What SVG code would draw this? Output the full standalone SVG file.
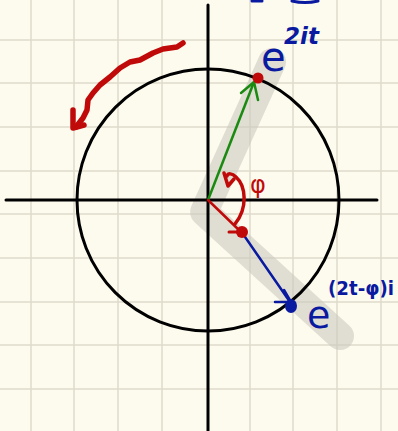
<svg xmlns="http://www.w3.org/2000/svg" width="398" height="431" viewBox="0 0 398 431">
<style>
.grid{stroke:#dedbcb;stroke-width:1.5}
.ax{stroke:#000;stroke-width:3;fill:none;stroke-linecap:round}
.red{stroke:#c00a0a;fill:none;stroke-linecap:round;stroke-linejoin:round}
.blue{stroke:#0a1aa0;fill:none;stroke-linecap:round;stroke-linejoin:round}
.lbl{font-family:"DejaVu Sans",sans-serif;fill:#0a1aa0}
</style>
<rect width="398" height="431" fill="#fdfbee"/>
<g id="grid">
<path class="grid" d="M31,0V431M74,0V431M118,0V431M162,0V431M250,0V431M293,0V431M337,0V431M381,0V431M0,40H398M0,83H398M0,127H398M0,171H398M0,214H398M0,258H398M0,302H398M0,345H398M0,389H398"/>
</g>
<g id="band">
<polyline points="272,62 204,212 340,336" fill="none" stroke="#c8c6bb" stroke-opacity="0.55" stroke-width="28" stroke-linecap="round" stroke-linejoin="round"/>
</g>
<g id="axes">
<line class="ax" x1="6" y1="200" x2="377" y2="200"/>
<line class="ax" x1="208" y1="5" x2="208" y2="431"/>
<circle class="ax" cx="208" cy="200" r="131"/>
</g>
<g id="connectors">
<line x1="208" y1="200" x2="254" y2="82" stroke="#1a8a10" stroke-width="2.5"/>
<polyline points="241,93 254,82 258,100" fill="none" stroke="#1a8a10" stroke-width="2.5" stroke-linecap="round" stroke-linejoin="round"/>
<line class="red" x1="208" y1="200" x2="240" y2="231" stroke-width="2.5"/>
<line class="blue" x1="243" y1="234" x2="290" y2="302" stroke-width="2.5"/>
<polyline class="blue" points="284,290 291,302 275,302" stroke-width="2.5"/>
<path class="red" d="M235,224 C248,208 246,186 236,177 C232,173 228,173 227,176" stroke-width="3.5"/>
<polyline class="red" points="224,173 228,186 234,179" stroke-width="3.5"/>
<path class="red" stroke-width="5.5" d="M183,43 L177,47 L163,49 L153,53 L140,60 L130,62 L120,68 L110,77 L100,85 L93,93 L88,100 L87,110 L83,118 L76,127"/>
<polyline class="red" stroke-width="5.5" points="73,110 73,128 84,125"/>
</g>
<g id="p1">
<circle cx="258" cy="78" r="5.5" fill="#c00a0a"/>
</g>
<g id="p2">
<circle cx="242" cy="232" r="6" fill="#c00a0a"/>
<line class="red" x1="229" y1="232" x2="238" y2="232" stroke-width="3"/>
</g>
<g id="p3">
<ellipse cx="291" cy="306" rx="6" ry="7" fill="#0a1aa0"/>
</g>
<g id="labels">
<text x="261" y="71" class="lbl" font-size="40">e</text>
<text x="284" y="44" class="lbl" font-size="23" font-weight="bold" font-style="italic">2it</text>
<text x="307" y="328" class="lbl" font-size="38">e</text>
<text x="328" y="295" class="lbl" font-size="19" font-weight="bold" textLength="66" lengthAdjust="spacingAndGlyphs">(2t-φ)i</text>
<text x="250" y="193" font-family="DejaVu Sans,sans-serif" font-size="24" fill="#c00a0a">φ</text>
<path class="blue" stroke-width="3" d="M252,1 L262,1 M292,1 Q305,4 318,1"/>
</g>
</svg>
